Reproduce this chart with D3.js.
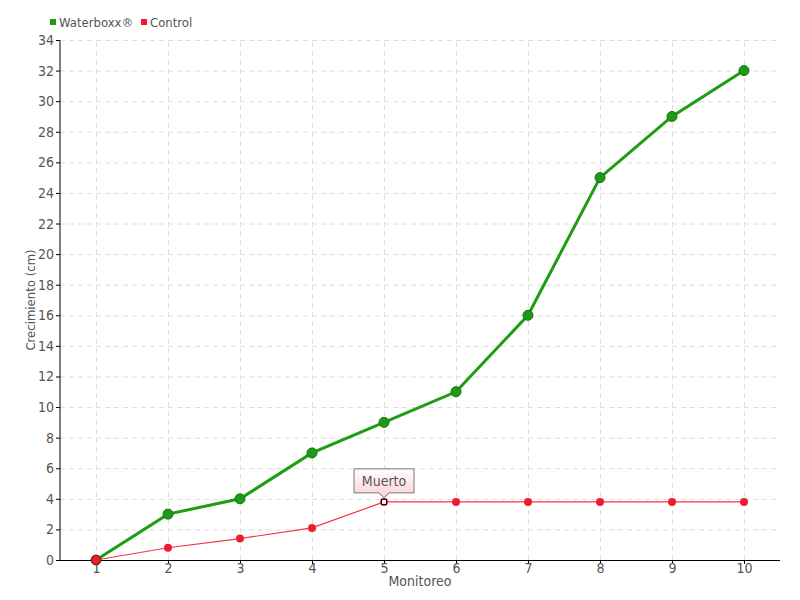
<!DOCTYPE html>
<html>
<head>
<meta charset="utf-8">
<script src="https://cdn.jsdelivr.net/npm/d3@7"></script>
<style>
  body { margin: 0; background: #fff; }
  text { font-family: "DejaVu Sans Condensed", "DejaVu Sans", sans-serif; fill: #555; }
  .grid line { stroke: #ddd; stroke-dasharray: 5,4; }
  .grid path { display: none; }
  .axis path, .axis line { stroke: #000; }
</style>
</head>
<body>
<script>
 ///////////////////////////////////////////////////////
 // data

 var monitoreo = [1, 2, 3, 4, 5, 6, 7, 8, 9, 10];
 var waterboxx = [0, 3, 4, 7, 9, 11, 16, 25, 29, 32];
 var control = [0, 0.8, 1.4, 2.1, 3.8, 3.8, 3.8, 3.8, 3.8, 3.8];
 var yTicks = d3.range(0, 35, 2);
 var seriesNames = ["Waterboxx®", "Control"];
 var deadIndex = 4; // "Muerto" marker on Control

 ///////////////////////////////////////////////////////
 // margins

 var w = 800;
 var h = 600;
 var svg = d3.select("body").append("svg")
   .attr("width", w)
   .attr("height", h),
   margin = { top: 40, bottom: 40, left: 60, right: 20 },
   width = w - margin.left - margin.right,
   height = h - margin.top - margin.bottom;

 ///////////////////////////////////////////////////////
 // scales

 var x = d3.scalePoint()
   .domain(monitoreo)
   .range([0, width])
   .padding(0.5);
 var y = d3.scaleLinear()
   .domain([0, 34])
   .range([height, 0]);

 var chart = svg.append("g")
   .attr("transform", "translate(" + margin.left + "," + margin.top + ")");

 // gridlines
 chart.append("g")
   .classed("grid", true)
   .call(d3.axisLeft(y).tickValues(yTicks).tickFormat("").tickSize(-width));
 chart.append("g")
   .classed("grid", true)
   .attr("transform", "translate(0," + height + ")")
   .call(d3.axisBottom(x).tickFormat("").tickSize(-height));

 // axes
 var yAxis = chart.append("g")
   .classed("axis", true)
   .call(d3.axisLeft(y).tickValues(yTicks).tickSize(4).tickPadding(2).tickSizeOuter(0));
 var xAxis = chart.append("g")
   .classed("axis", true)
   .attr("transform", "translate(0," + height + ")")
   .call(d3.axisBottom(x).tickSize(4).tickPadding(-1).tickSizeOuter(0));
 chart.selectAll(".axis text")
   .style("font-size", "14px")
   .attr("fill", "#555");
 yAxis.select(".domain").attr("d", "M0," + (height + 0.5) + "V0.5");
 xAxis.select(".domain").attr("d", "M0,0.5H" + width);

 // axis titles
 chart.append("text")
   .attr("transform", "translate(-25," + height / 2 + ") rotate(-90)")
   .attr("text-anchor", "middle")
   .style("font-size", "13px")
   .text("Crecimiento (cm)");
 chart.append("text")
   .attr("x", width / 2)
   .attr("y", height + 26)
   .attr("text-anchor", "middle")
   .style("font-size", "14px")
   .text("Monitoreo");

 ///////////////////////////////////////////////////////
 // lines

 var line = d3.line()
   .x(function(d, i) { return x(monitoreo[i]); })
   .y(function(d) { return y(d); });

 chart.append("path")
   .datum(control)
   .attr("fill", "none")
   .attr("stroke", "#f5334a")
   .attr("stroke-width", 1.2)
   .attr("d", line);
 chart.selectAll(".cdot")
   .data(control)
   .enter().append("circle")
   .attr("cx", function(d, i) { return x(monitoreo[i]); })
   .attr("cy", function(d) { return y(d); })
   .attr("r", function(d, i) { return i === deadIndex ? 0 : 4; })
   .attr("fill", "#ee1c2e");

 chart.append("path")
   .datum(waterboxx)
   .attr("fill", "none")
   .attr("stroke", "#1d9e12")
   .attr("stroke-width", 3)
   .attr("d", line);
 chart.selectAll(".wdot")
   .data(waterboxx)
   .enter().append("circle")
   .attr("cx", function(d, i) { return x(monitoreo[i]); })
   .attr("cy", function(d) { return y(d); })
   .attr("r", 5)
   .attr("fill", "#1f9a16")
   .attr("stroke", "#157010")
   .attr("stroke-width", 1);

 // first control point drawn on top
 chart.append("circle")
   .attr("cx", x(monitoreo[0]))
   .attr("cy", y(control[0]))
   .attr("r", 4.5)
   .attr("fill", "#ee1c2e")
   .attr("stroke", "#a01010");

 ///////////////////////////////////////////////////////
 // "Muerto" marker

 var mx = x(monitoreo[deadIndex]), my = y(control[deadIndex]);
 chart.append("circle")
   .attr("cx", mx).attr("cy", my).attr("r", 4)
   .attr("fill", "#ee1c2e");
 chart.append("rect")
   .attr("x", mx - 2.5).attr("y", my - 2.5)
   .attr("width", 5).attr("height", 5)
   .attr("fill", "#fff").attr("stroke", "#000");

 var defs = svg.append("defs");
 var grad = defs.append("linearGradient")
   .attr("id", "tip").attr("x1", 0).attr("y1", 0).attr("x2", 0).attr("y2", 1);
 grad.append("stop").attr("offset", "0%").attr("stop-color", "#ffffff");
 grad.append("stop").attr("offset", "100%").attr("stop-color", "#fbd0d0");

 var bw = 60, bh = 24, by = my - 33;
 chart.append("path")
   .attr("d", "M" + (mx - bw / 2) + "," + by + "h" + bw + "v" + bh +
     "h" + (-(bw / 2 - 5)) + "l-5,5l-5,-5h" + (-(bw / 2 - 5)) + "z")
   .attr("fill", "url(#tip)")
   .attr("stroke", "#777");
 chart.append("text")
   .attr("x", mx).attr("y", by + 17)
   .attr("text-anchor", "middle")
   .style("font-size", "14px")
   .text("Muerto");

 ///////////////////////////////////////////////////////
 // legend

 var colors = ["#1f9a16", "#ee1c2e"];
 var lx = [50, 141];
 var legend = svg.selectAll(".legend")
   .data(seriesNames)
   .enter().append("g")
   .attr("transform", function(d, i) { return "translate(" + lx[i] + ",18)"; });
 legend.append("rect")
   .attr("width", 6).attr("height", 6).attr("y", 1)
   .attr("fill", function(d, i) { return colors[i]; });
 legend.append("text")
   .attr("x", 9).attr("y", 8.5)
   .style("font-size", "13px")
   .text(function(d) { return d; });
</script>
</body>
</html>
